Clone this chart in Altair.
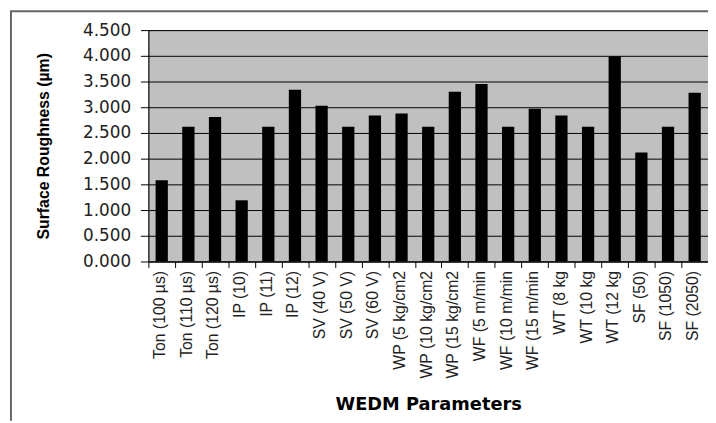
import altair as alt
import pandas as pd

categories = [
    "Ton (100 µs)", "Ton (110 µs)", "Ton (120 µs)",
    "IP (10)", "IP (11)", "IP (12)",
    "SV (40 V)", "SV (50 V)", "SV (60 V)",
    "WP (5 kg/cm2", "WP (10 kg/cm2", "WP (15 kg/cm2",
    "WF (5 m/min", "WF (10 m/min", "WF (15 m/min",
    "WT (8 kg", "WT (10 kg", "WT (12 kg",
    "SF (50)", "SF (1050)", "SF (2050)",
]
roughness = [1.58, 2.62, 2.81, 1.19, 2.62, 3.34, 3.03, 2.62, 2.84,
             2.88, 2.62, 3.30, 3.45, 2.62, 2.97, 2.84, 2.62, 3.99,
             2.12, 2.62, 3.28]
y_ticks = [0.0, 0.5, 1.0, 1.5, 2.0, 2.5, 3.0, 3.5, 4.0, 4.5]

df = pd.DataFrame({"param": categories, "ra": roughness})

W, H = 566, 234

bars = alt.Chart(df).mark_bar(color="black", width=alt.RelativeBandSize(0.46)).encode(
    x=alt.X(
        "param:N", sort=None,
        scale=alt.Scale(paddingInner=0, paddingOuter=0),
        axis=alt.Axis(
            title="WEDM Parameters", labelAngle=-90, tickBand="extent",
            labelFont="Liberation Sans", labelFontSize=16, labelColor="#222",
            labelPadding=3, labelLimit=0, labelOverlap=False, labelOffset=-2,
            tickSize=6, tickColor="black", domainColor="black", grid=False,
            titleFont="DejaVu Sans", titleFontSize=18, titleFontWeight="bold",
            titleColor="black", titleX=W / 2, titleY=145, titleBaseline="middle",
        ),
    ),
    y=alt.Y(
        "ra:Q",
        scale=alt.Scale(domain=[0, 4.5], nice=False),
        axis=alt.Axis(
            values=y_ticks, format=".3f", title="Surface Roughness (µm)",
            labelFont="DejaVu Sans", labelFontSize=17, labelColor="#222",
            labelPadding=10, tickSize=8, tickColor="black", domainColor="black",
            grid=True, gridColor="black", gridWidth=1,
            titleFont="Liberation Sans", titleFontSize=16, titleFontWeight="bold",
            titleColor="black", titleX=-106, titleY=H / 2, titleAngle=270,
            titleBaseline="middle", titleAlign="center",
        ),
    ),
)

frame = pd.DataFrame({"k": [0]})
left_line = alt.Chart(frame).mark_rule(color="#666", strokeWidth=2).encode(
    x=alt.value(-139), y=alt.value(-19), y2=alt.value(H + 161)
)
top_line = alt.Chart(frame).mark_rule(color="#666", strokeWidth=2).encode(
    x=alt.value(-140), x2=alt.value(W), y=alt.value(-19)
)

chart = alt.layer(bars, left_line, top_line).properties(
    width=W, height=H,
    autosize=alt.AutoSizeParams(type="none"),
    padding={"left": 142, "top": 20, "right": 0, "bottom": 161},
    background="white",
).configure_view(fill="#c0c0c0", stroke="#808080")

chart.save("out.html", embed_options={"renderer": "svg", "actions": False})
